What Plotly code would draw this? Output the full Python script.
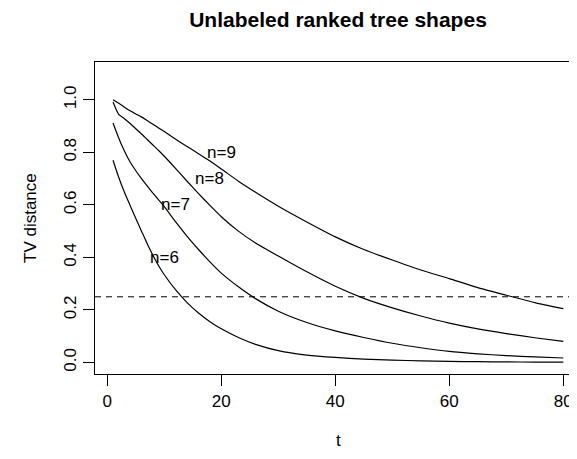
import plotly.graph_objects as go

# ---- data ----
t = [1, 2, 3, 4, 5, 6, 7, 8, 9, 10, 12, 14, 16, 18, 20, 23, 26, 30, 35, 40,
     45, 50, 55, 60, 65, 70, 75, 80]
tv_n6 = [0.770, 0.705, 0.648, 0.598, 0.548, 0.500, 0.452, 0.408, 0.368, 0.334,
         0.276, 0.228, 0.188, 0.155, 0.128, 0.095, 0.069, 0.045, 0.028, 0.019,
         0.013, 0.009, 0.006, 0.004, 0.003, 0.002, 0.0015, 0.0012]
tv_n7 = [0.912, 0.855, 0.805, 0.763, 0.730, 0.700, 0.672, 0.645, 0.619, 0.593,
         0.535, 0.480, 0.430, 0.383, 0.340, 0.288, 0.243, 0.195, 0.152, 0.120,
         0.095, 0.073, 0.056, 0.042, 0.033, 0.026, 0.021, 0.017]
tv_n8 = [0.992, 0.945, 0.928, 0.910, 0.890, 0.870, 0.849, 0.828, 0.807, 0.785,
         0.738, 0.690, 0.643, 0.598, 0.555, 0.500, 0.455, 0.405, 0.345, 0.290,
         0.244, 0.208, 0.177, 0.150, 0.128, 0.110, 0.094, 0.080]
tv_n9 = [1.000, 0.987, 0.972, 0.958, 0.946, 0.935, 0.921, 0.907, 0.893, 0.879,
         0.850, 0.822, 0.795, 0.767, 0.737, 0.690, 0.648, 0.595, 0.535, 0.478,
         0.430, 0.390, 0.352, 0.319, 0.285, 0.256, 0.228, 0.205]
series = [tv_n6, tv_n7, tv_n8, tv_n9]

label_text = ["n=6", "n=7", "n=8", "n=9"]
label_t = [10, 12, 18, 20]
label_v = [0.40, 0.60, 0.70, 0.80]

threshold = 0.25
x_ticks = [0, 20, 40, 60, 80]
y_ticks = [0.0, 0.2, 0.4, 0.6, 0.8, 1.0]
y_tick_text = ["0.0", "0.2", "0.4", "0.6", "0.8", "1.0"]

title = "Unlabeled ranked tree shapes"
x_title = "t"
y_title = "TV distance"

# ---- layout (page has an 8px body margin, so figure coords = page coords - 8) ----
OFF = 8
W, H = 577 - OFF, 459 - OFF
ML, MR, MT, MB = 95 - OFF, 0, 62 - OFF, 85
FONT = "Liberation Sans, Arial, sans-serif"
FS = 17

fig = go.Figure()
for s in series:
    fig.add_trace(go.Scatter(x=t, y=s, mode="lines",
                             line=dict(color="black", width=1.2, shape="spline", smoothing=0.6),
                             showlegend=False, hoverinfo="skip"))

fig.add_shape(type="line", xref="paper", x0=0, x1=1, yref="y", y0=threshold, y1=threshold,
              line=dict(color="black", width=1, dash="6px,5px"))

for txt, tx, ty in zip(label_text, label_t, label_v):
    fig.add_annotation(x=tx, y=ty, text=txt, showarrow=False,
                       font=dict(family=FONT, size=FS, color="black"),
                       xanchor="center", yanchor="middle")

plot_w = W - ML - MR
plot_h = H - MT - MB
fig.add_annotation(xref="paper", yref="paper", x=(338 - OFF - ML) / plot_w,
                   y=-((440 - OFF) - (H - MB)) / plot_h,
                   text=x_title, showarrow=False, font=dict(family=FONT, size=FS, color="black"),
                   xanchor="center", yanchor="middle")
fig.add_annotation(xref="paper", yref="paper", x=(30 - OFF - ML) / plot_w, y=0.5,
                   text=y_title, textangle=-90, showarrow=False,
                   font=dict(family=FONT, size=FS, color="black"),
                   xanchor="center", yanchor="middle")

fig.update_layout(
    width=W, height=H,
    margin=dict(l=ML, r=MR, t=MT, b=MB),
    paper_bgcolor="white", plot_bgcolor="white",
    font=dict(family=FONT, size=FS, color="black"),
    title=dict(text="<b>" + title + "</b>", x=(338 - OFF) / W, xanchor="center",
               y=1 - (20 - OFF) / H, yanchor="middle", yref="container",
               font=dict(family=FONT, size=21, color="black")),
    xaxis=dict(range=[-2.16, 82.4], tickvals=x_ticks, ticks="outside", ticklen=11,
               tickwidth=1, tickcolor="black", showline=True, mirror=True,
               linecolor="black", linewidth=1.2, showgrid=False, zeroline=False,
               tickfont=dict(family=FONT, size=FS, color="black")),
    yaxis=dict(range=[-0.044, 1.144], tickvals=y_ticks, ticktext=y_tick_text,
               ticks="outside", ticklen=11, tickwidth=1, tickcolor="black",
               tickangle=-90, showline=True, mirror=False,
               linecolor="black", linewidth=1.2, showgrid=False, zeroline=False,
               tickfont=dict(family=FONT, size=FS, color="black")),
)

fig.write_html("out.html")
